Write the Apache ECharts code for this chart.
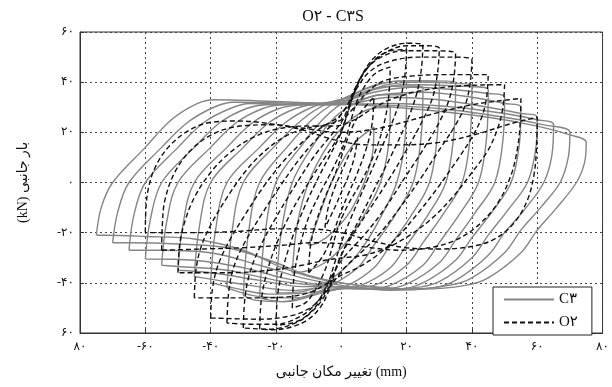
<!DOCTYPE html>
<html>
<head>
<meta charset="utf-8">
<script src="https://cdn.jsdelivr.net/npm/echarts@6/dist/echarts.min.js"></script>
<style>
html,body{margin:0;padding:0;background:#fff;}
#chart{width:612px;height:387px;}
</style>
</head>
<body>
<div id="chart"></div>
<script>
// Lateral load vs lateral displacement, hysteresis of specimens C3 and O2
const chartTitle = 'O\u06F2 - C\u06F3S';
const seriesNames = ['C\u06F3', 'O\u06F2'];
const xTicks = [-80, -60, -40, -20, 0, 20, 40, 60, 80];
const xTickLabels = ['\u06F8\u06F0', '-\u06F6\u06F0', '-\u06F4\u06F0', '-\u06F2\u06F0', '\u06F0', '\u06F2\u06F0', '\u06F4\u06F0', '\u06F6\u06F0', '\u06F8\u06F0'];
const yTicks = [-60, -40, -20, 0, 20, 40, 60];
const yTickLabels = ['\u06F6\u06F0', '-\u06F4\u06F0', '-\u06F2\u06F0', '\u06F0', '\u06F2\u06F0', '\u06F4\u06F0', '\u06F6\u06F0'];
const xAxisTitle = 'تغییر مکان جانبی (mm)';
const yAxisTitle = '(kN) بار جانبی';

// C3 cycles: [displacement mm, load kN], each cycle closed at its negative peak
const c3Cycles = [
  [[-10,-25],[-7,-14],[-3,0],[1,10],[5,17],[10,22],[9.5,11],[7,0],[3,-11],[-2,-19],[-7,-24],[-10,-25]],
  [[-15,-36],[-13.5,-17],[-10,0],[-4,15],[2,24],[8,29],[15,30],[14.5,15],[12,0],[7,-13],[2,-23],[-4,-31],[-10,-35],[-15,-36]],
  [[-20,-44],[-18.5,-21],[-15,0],[-8,16],[-2,26],[5,32],[12,35],[20,35],[19.5,17],[17,0],[12,-14],[7,-25],[2,-33],[-5,-40],[-12,-43.5],[-20,-44]],
  [[-25,-46],[-23.5,-22],[-20,0],[-12,15],[-5,26],[2,33],[10,37.5],[18,38.5],[25,38],[24.5,19],[22,0],[16,-14],[10,-25],[5,-34],[-3,-41],[-10,-45],[-18,-47.5],[-25,-46]],
  [[-30,-45],[-28.5,-21],[-25,0],[-16,15],[-9,25],[-3,31],[4,35.5],[12,39.5],[22,40.5],[30,40],[29.5,20],[27,0],[21,-14],[15,-25],[10,-34],[2,-41],[-6,-44],[-17,-47.5],[-26,-47],[-30,-45]],
  [[-35,-42],[-33.5,-20],[-30,0],[-20,15],[-12,25],[-5,31],[2,34],[9,38],[18,40.5],[28,40.5],[35,40],[34.5,20],[32,0],[26,-14],[20,-25],[15,-34],[6,-41],[-3,-43],[-14,-46],[-25,-45.5],[-35,-42]],
  [[-40,-40],[-38.5,-19],[-35,0],[-25,14],[-17,24],[-9,30],[-2,32.5],[6,35],[14,39],[25,40],[35,39.5],[40,39],[39.5,19],[37,0],[31,-13],[25,-24],[20,-33],[10,-41],[2,-42],[-10,-44],[-22,-44.5],[-33,-42],[-40,-40]],
  [[-45,-37.5],[-43.5,-18],[-40,0],[-30,14],[-22,24],[-14,29.5],[-7,31.5],[2,33],[10,37],[20,39],[35,38.5],[45,37],[44.5,18],[42,0],[36,-13],[30,-24],[25,-33],[15,-41],[7,-42.5],[-5,-42],[-15,-43],[-28,-41],[-40,-38.5],[-45,-37.5]],
  [[-50,-35],[-48.5,-17],[-45,0],[-35,14],[-27,24],[-19,29.5],[-12,31],[0,32],[10,36],[22,38],[35,37],[45,35.5],[50,34],[49.5,17],[47,0],[41,-12],[35,-23],[30,-32],[20,-40.5],[12,-42.5],[0,-41.5],[-12,-41.5],[-25,-39],[-40,-36],[-50,-35]],
  [[-55,-33],[-53.5,-16],[-50,0],[-40,14],[-32,24],[-24,29.5],[-18,31],[0,31.5],[12,35],[25,36],[40,34],[50,31.5],[55,30],[54.5,15],[52,0],[46,-12],[40,-22],[35,-31],[25,-40],[17,-42.5],[5,-42],[-8,-41],[-20,-39],[-35,-35],[-50,-33.5],[-55,-33]],
  [[-60,-30.5],[-58.5,-15],[-55,0],[-45,14],[-37,24],[-29,29.5],[-23,31],[0,31],[15,34],[30,33],[45,30],[55,27.5],[60,26],[59.5,13],[57,0],[51,-11],[45,-21],[40,-30],[30,-39.5],[22,-42],[10,-42.5],[-5,-41],[-18,-38],[-30,-34],[-45,-31],[-60,-30.5]],
  [[-65,-27],[-63.5,-13],[-60,0],[-50,14],[-42,24],[-34,29.5],[-28,31.5],[-5,31],[15,31.5],[35,30],[50,27.5],[60,25],[65,23],[64.5,11],[62,0],[56,-11],[50,-20],[45,-29],[35,-39],[28,-42],[15,-43],[0,-41],[-12,-38],[-25,-33],[-40,-28],[-55,-27],[-65,-27]],
  [[-70,-24],[-68.5,-12],[-65,0],[-55,14],[-47,24],[-39,30],[-33,32],[-10,31.5],[10,31],[30,29.5],[50,26],[62,23],[70,20],[69.5,10],[67,0],[61,-10],[55,-19],[50,-28],[40,-38],[33,-41],[20,-42.5],[5,-41],[-10,-37],[-22,-31],[-35,-26],[-50,-24.5],[-65,-24],[-70,-24]],
  [[-75,-21],[-73.5,-10],[-70,0],[-60,14],[-52,25],[-44,31.5],[-39,33],[-15,32],[5,31],[25,29],[45,26],[60,22.5],[70,19],[75,16],[74.5,8],[72,0],[66,-10],[60,-19],[55,-28],[45,-38],[38,-41],[25,-42.5],[10,-41.5],[-5,-39],[-18,-34],[-30,-27],[-45,-22.5],[-60,-21.5],[-72,-21],[-75,-21]]
];

// O2 cycles: [displacement mm, load kN], each cycle closed at its negative peak
const o2Cycles = [
  [[-5,-18],[-4,-10],[-2,-2],[0,4],[2,10],[5,18],[4,10],[2,2],[0,-4],[-2,-10],[-5,-18]],
  [[-10,-36],[-9.5,-26],[-8,-17],[-5,-6],[-2,3],[0.5,12],[3,21],[6,28],[10,34],[9.5,24],[8,15],[5,4],[2,-5],[-0.5,-13],[-3,-22],[-6,-30],[-10,-36]],
  [[-15,-50],[-14.5,-38],[-13,-27],[-10,-14],[-6,-3],[-2,7],[1,16],[3,25],[5,33],[8,40],[11,44],[15,46],[14.5,34],[13,23],[10,11],[6,0],[2,-9],[-1,-18],[-3,-27],[-5,-35],[-8,-43],[-11,-48],[-15,-50]],
  [[-20,-57],[-19.5,-45],[-18,-35],[-15,-22],[-11,-9],[-7,2],[-3,12],[0,20],[2,28],[4,36],[7,44],[11,49.5],[15,52.5],[20,53],[19.5,43],[18,33],[15,22],[11,10],[7,-2],[3,-14],[0,-24],[-2,-32],[-4,-40],[-7,-48],[-11,-53.5],[-15,-56],[-20,-57]],
  [[-25,-58.5],[-24.5,-47],[-23,-37],[-20,-25],[-15,-11],[-10,0],[-5,10],[-1,18],[1.5,26],[3.5,34],[6,42],[9.5,49],[14,53.5],[20,55.5],[25,55],[24.5,45],[23,35],[20,24],[15,10],[10,-3],[5,-16],[1,-26],[-1.5,-34],[-3.5,-42],[-6,-49],[-10,-54.5],[-15,-57.5],[-21,-58.7],[-25,-58.5]],
  [[-30,-58],[-29.5,-46],[-28,-36],[-25,-26],[-20,-14],[-14,-1],[-8,11],[-3,19],[0,24],[2.5,31],[5,39],[8.5,46.5],[13,51.5],[20,54.5],[26,54.5],[30,53.5],[29.5,44],[28,34],[25,25],[20,13],[14,0],[8,-12],[3,-22],[0,-29],[-2.5,-37],[-5,-45],[-9,-51.5],[-14,-56],[-22,-58.5],[-30,-58]],
  [[-35,-56],[-34.5,-44],[-33,-34],[-30,-25],[-25,-14],[-19,-2],[-13,9],[-7,18],[-2,24],[1.5,30],[4,37],[7,44],[11.5,49.5],[19,52.5],[28,52.5],[35,51.5],[34.5,42],[33,33],[30,24],[25,13],[19,1],[13,-11],[7,-21],[2,-28],[-1,-33],[-4,-40],[-7,-47],[-12,-53],[-20,-56.5],[-28,-56.5],[-35,-56]],
  [[-40,-54],[-39.5,-43],[-38,-34],[-35,-25],[-30,-14],[-24,-2],[-18,8],[-12,16],[-6,22],[-1,26],[2,31],[5,38],[8.5,44],[14,48],[24,50],[33,50],[40,49],[39.5,40],[38,31],[35,23],[30,13],[24,1],[18,-10],[12,-20],[6,-28],[1,-34],[-2,-39],[-5,-44],[-9,-49.5],[-15,-53],[-25,-54.5],[-40,-54]],
  [[-45,-46],[-44.5,-35],[-43,-26],[-40,-17],[-35,-6],[-29,5],[-23,13],[-17,18.5],[-11,21.5],[-5,23],[0,25],[4,30],[8,36],[13,40.5],[22,42.5],[33,43],[45,43],[44.5,34],[43,26],[40,18],[35,8],[29,-3],[23,-13],[17,-22],[11,-29],[5,-34],[0,-37],[-4,-40],[-9,-43.5],[-16,-45.5],[-28,-46],[-45,-46]],
  [[-50,-36],[-49.5,-25],[-48,-16],[-45,-6],[-40,4],[-34,12],[-27,18],[-19,21.5],[-10,22.5],[-2,22.5],[4,25],[9,29],[15,33],[24,36.5],[36,38.5],[50,39],[49.5,30],[48,22],[45,13],[40,4],[34,-6],[28,-14],[21,-21],[14,-26],[7,-29],[1,-30],[-5,-31],[-12,-33],[-22,-35],[-35,-36],[-50,-36]],
  [[-55,-27],[-54.8,-17],[-54,-7],[-51,4],[-46,13],[-39,19.5],[-31,22.5],[-21,23],[-11,21.5],[-1,20],[9,21],[19,24],[30,28],[40,31],[48,32.5],[55,33.5],[54.8,24],[54,14],[52,3],[48,-8],[42,-17],[35,-23],[27,-26],[18,-27],[9,-26],[1,-24.5],[-8,-24],[-18,-25],[-30,-26],[-42,-26.5],[-55,-27]],
  [[-60,-20],[-59.8,-10],[-59,-2],[-57,6],[-53,14],[-47,20.5],[-40,24],[-32,24.5],[-22,23.5],[-12,21],[-2,17],[8,15],[18,15],[30,16],[42,19.5],[52,23.5],[60,26],[59.8,14],[59,3],[57,-7],[53,-16],[47,-22.5],[40,-25.5],[30,-26.5],[20,-26],[10,-23.5],[0,-20],[-10,-18.5],[-20,-18.5],[-32,-19.5],[-45,-20],[-55,-20],[-60,-20]]
];

const serif = '"Liberation Serif","DejaVu Serif","DejaVu Sans",serif';
const c3Style = { color: '#858585', width: 1.4, type: 'solid' };
const o2Style = { color: '#111', width: 1.4, type: [5, 3] };

function cycleSeries(name, cycles, style, z) {
  return cycles.map(function (pts) {
    return {
      name: name, type: 'line', data: pts, smooth: 0.35, showSymbol: false,
      symbol: 'none', lineStyle: style, itemStyle: { color: style.color },
      z: z, silent: true, animation: false
    };
  });
}

function tickText(ticks, labels) {
  return function (v) {
    const i = ticks.indexOf(Math.round(v));
    return i >= 0 ? labels[i] : '';
  };
}

const axisLineStyle = { color: '#333', width: 1 };
const gridLineStyle = { color: '#444', width: 1, type: [2, 3] };

const chart = echarts.init(document.getElementById('chart'), null, { renderer: 'canvas' });
chart.setOption({
  animation: false,
  backgroundColor: '#fff',
  title: {
    text: chartTitle, left: 328, top: 4, textAlign: 'center',
    textStyle: { fontFamily: serif, fontSize: 16, fontWeight: 'normal', color: '#111' }
  },
  legend: {
    data: seriesNames, orient: 'vertical', left: 493, top: 287,
    itemWidth: 50, itemHeight: 12, itemGap: 8,
    padding: [5, 14, 5, 10],
    backgroundColor: '#fff', borderColor: '#222', borderWidth: 1,
    itemStyle: { opacity: 0 },
    textStyle: { fontFamily: serif, fontSize: 15, color: '#111' }
  },
  grid: {
    left: 80, right: 7, top: 32, bottom: 54,
    show: true, borderColor: '#333', borderWidth: 1, backgroundColor: 'transparent'
  },
  xAxis: {
    type: 'value', min: -80, max: 80, interval: 20,
    name: xAxisTitle, nameLocation: 'middle', nameGap: 32,
    nameTextStyle: { fontFamily: serif, fontSize: 14, color: '#111' },
    axisLine: { show: true, onZero: false, lineStyle: axisLineStyle },
    axisTick: { show: true, inside: true, length: 4, lineStyle: { color: '#333' } },
    axisLabel: { formatter: tickText(xTicks, xTickLabels), fontFamily: serif, fontSize: 12, color: '#111', margin: 8 },
    splitLine: { show: true, lineStyle: gridLineStyle }
  },
  yAxis: {
    type: 'value', min: -60, max: 60, interval: 20,
    name: yAxisTitle, nameLocation: 'middle', nameGap: 50, nameRotate: 90,
    nameTextStyle: { fontFamily: serif, fontSize: 14, color: '#111' },
    axisLine: { show: true, onZero: false, lineStyle: axisLineStyle },
    axisTick: { show: true, inside: true, length: 4, lineStyle: { color: '#333' } },
    axisLabel: { formatter: tickText(yTicks, yTickLabels), fontFamily: serif, fontSize: 12, color: '#111', margin: 6 },
    splitLine: { show: true, lineStyle: gridLineStyle }
  },
  series: cycleSeries(seriesNames[0], c3Cycles, c3Style, 2)
    .concat(cycleSeries(seriesNames[1], o2Cycles, o2Style, 3))
});
</script>
</body>
</html>
